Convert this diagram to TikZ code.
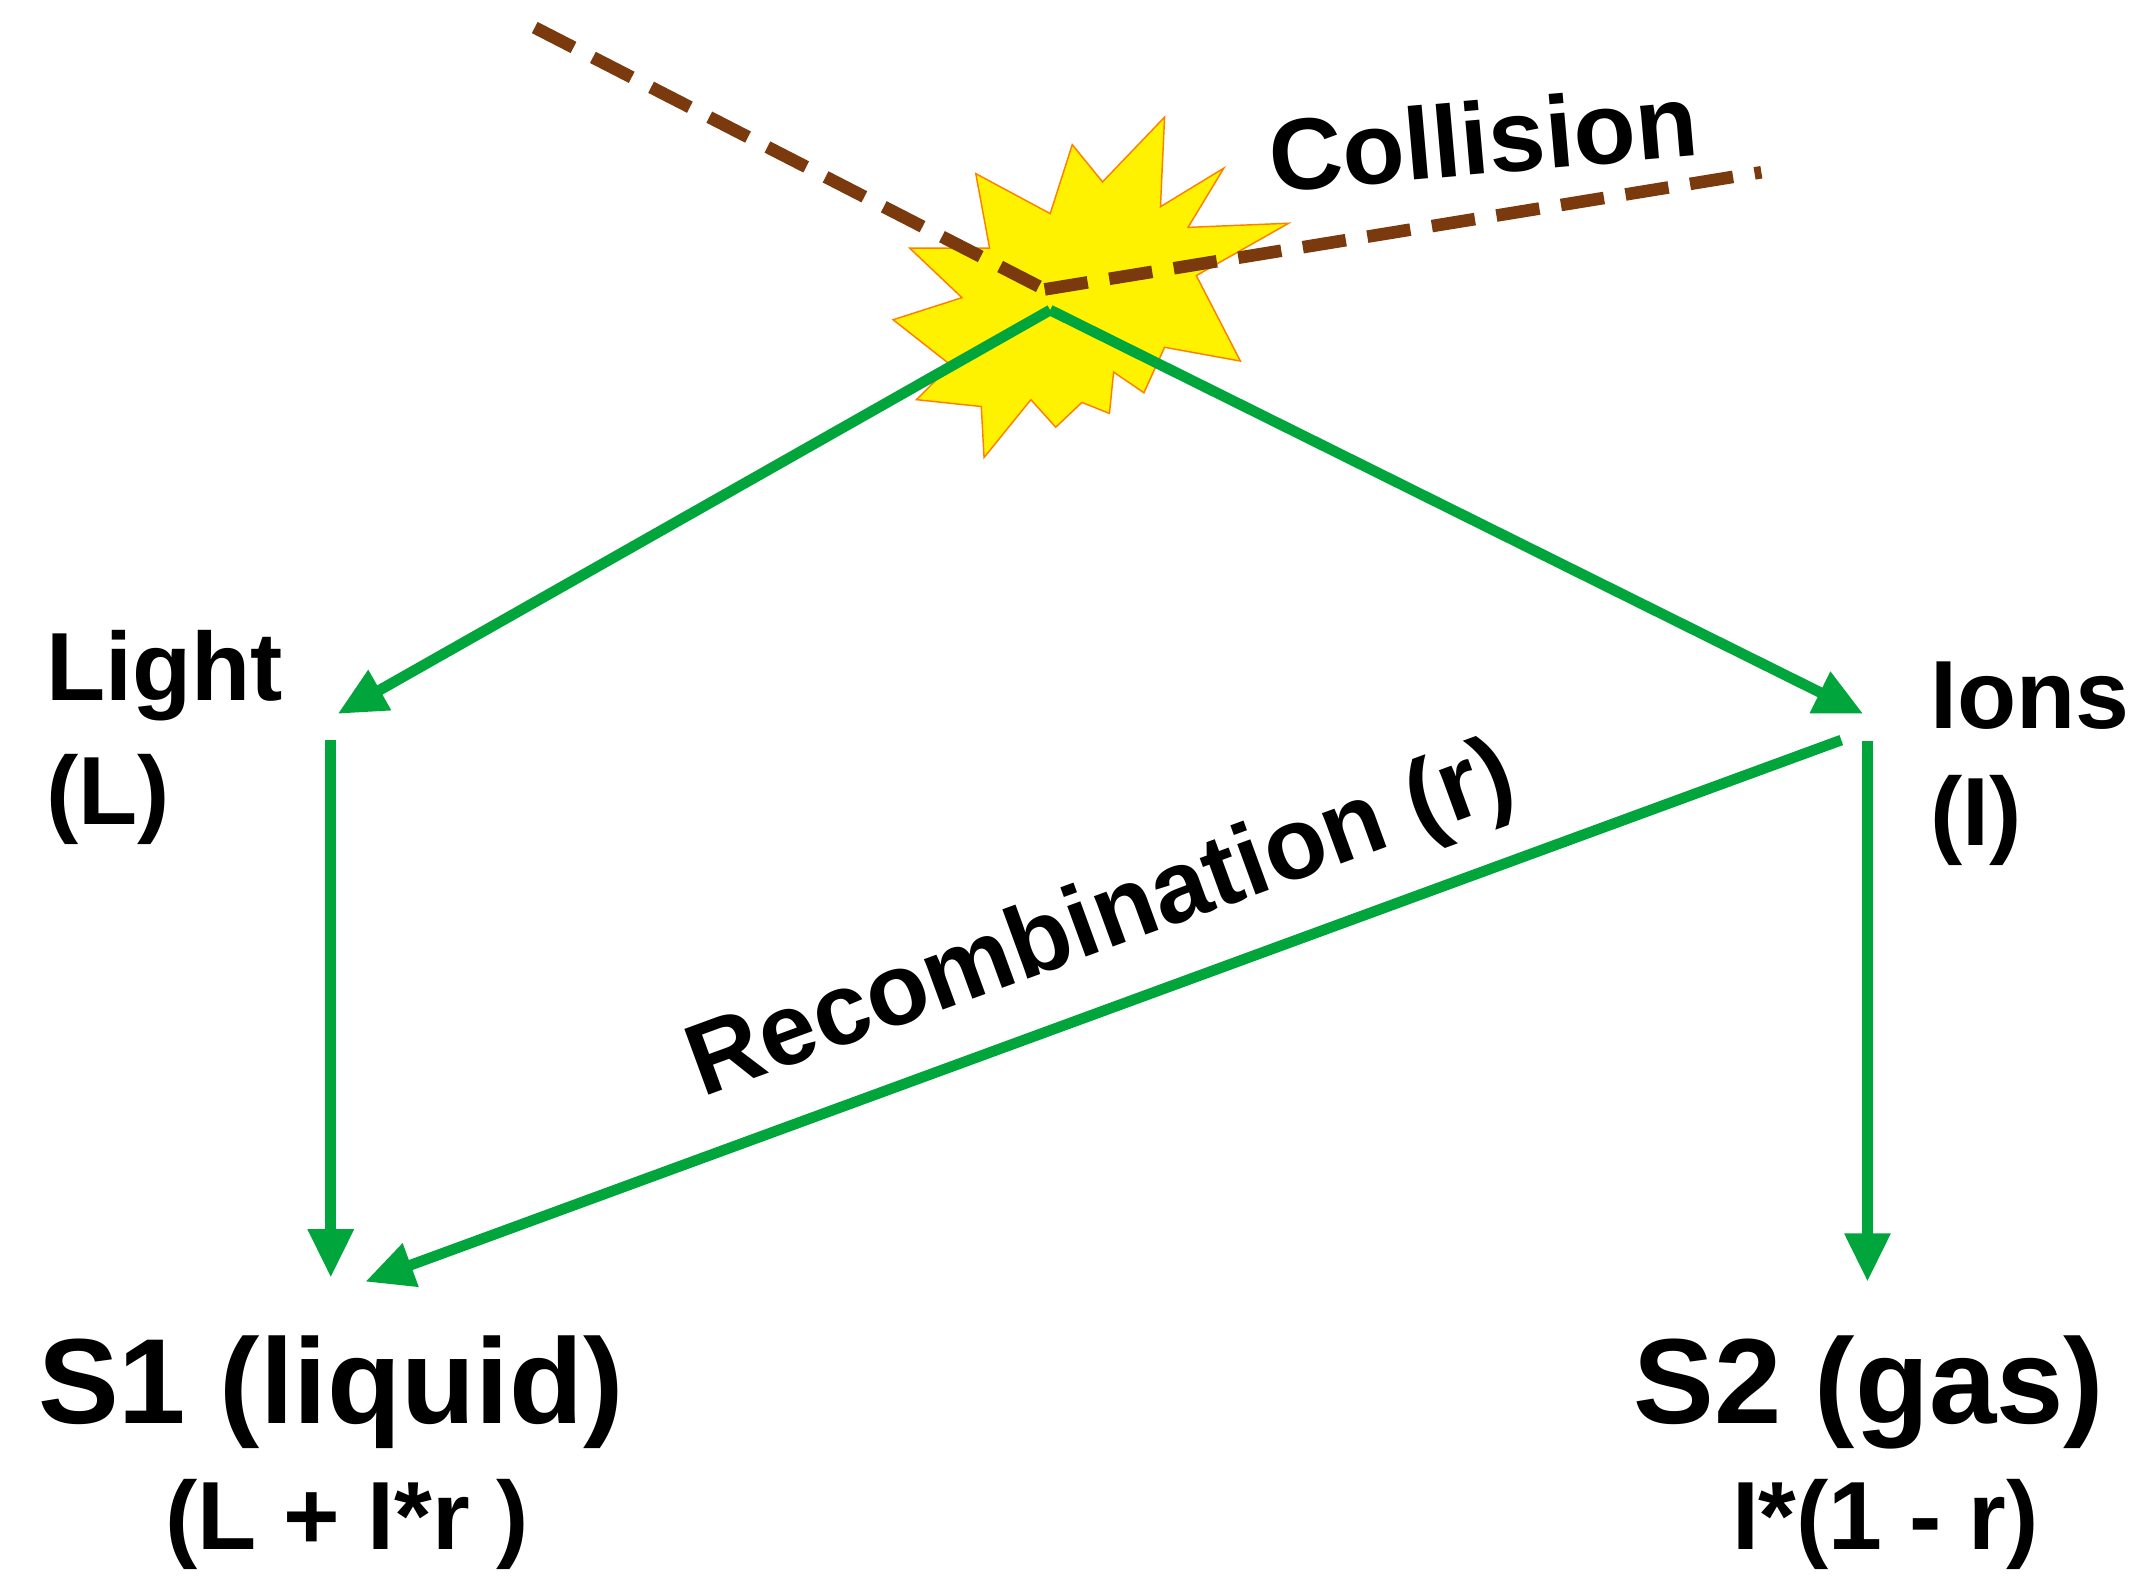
\documentclass[tikz,border=0pt]{standalone}
\usepackage{fontspec}
\setmainfont{Liberation Sans}
\usetikzlibrary{arrows.meta}
\definecolor{gr}{HTML}{00A53C}
\definecolor{br}{HTML}{7A3A0E}
\begin{document}
\begin{tikzpicture}[x=0.1mm,y=-0.1mm,
  conn/.style={gr,line width=2.2pt,-{Triangle[length=10pt,width=9pt]}},
  brdash/.style={br,line width=2.6pt,dash pattern=on 9pt off 4.5pt},
  lab/.style={font=\bfseries\fontsize{20}{22}\selectfont,anchor=west,inner sep=0},
  big/.style={font=\bfseries\fontsize{25}{28}\selectfont,inner sep=0},
  sub/.style={font=\bfseries\fontsize{20}{22}\selectfont,inner sep=0}]
\useasboundingbox (0,0) rectangle (1560,1152);
\fill[yellow,draw=orange,line width=0.3pt] (708,126)--(762,155)--(778,105)--(800,132)--(845,85)--(842,150)--(888,122)--(862,165)--(935,162)--(868,200)--(900,262)--(845,252)--(830,285)--(808,270)--(805,300)--(785,292)--(766,310)--(748,290)--(714,332)--(712,295)--(665,290)--(690,265)--(648,232)--(698,216)--(660,180)--(718,180)--cycle;
\coordinate (c) at (758,210);
\coordinate (d1) at (388,20);
\coordinate (d2) at (1278,125);
\draw[brdash] (d1) -- (c);
\draw[brdash] (c) -- (d2);
\node[font=\bfseries\fontsize{21}{24}\selectfont,rotate=5] (col) at (1076,100) {Collision};
\coordinate (src) at (762,225);
\coordinate (le) at (245,518);
\coordinate (ie) at (1352,518);
\coordinate (ls) at (240,537);
\coordinate (is) at (1355,538);
\coordinate (rs) at (1336,537);
\coordinate (s1a) at (240,927);
\coordinate (s1b) at (265,930);
\coordinate (s2a) at (1355,930);
\draw[conn] (src) -- (le);
\draw[conn] (src) -- (ie);
\draw[conn] (ls) -- (s1a);
\draw[conn] (is) -- (s2a);
\draw[conn] (rs) -- (s1b);
\node[font=\bfseries\fontsize{21}{24}\selectfont,rotate=20.1] (rec) at (800,670) {Recombination (r)};
\node[lab] (light) at (33,490) {Light};
\node[lab] (L) at (33,580) {(L)};
\node[lab] (ions) at (1400,505) {Ions};
\node[lab] (I) at (1400,595) {(I)};
\node[big] (s1) at (240,1010) {S1 (liquid)};
\node[sub] (f1) at (252,1106) {(L + I*r )};
\node[big] (s2) at (1356,1010) {S2 (gas)};
\node[sub] (f2) at (1368,1106) {I*(1 - r)};
\end{tikzpicture}
\end{document}
